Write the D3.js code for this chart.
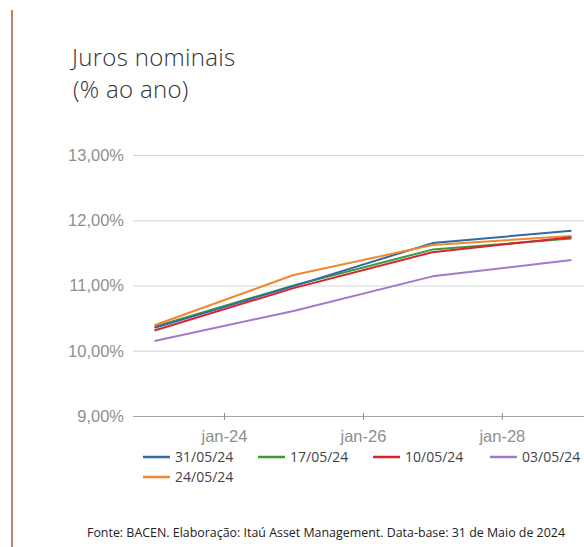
<!DOCTYPE html>
<html>
<head>
<meta charset="utf-8">
<script src="https://cdn.jsdelivr.net/npm/d3@7"></script>
<style>
  body { margin: 0; background: #fff; }
  svg { display: block; font-family: "Open Sans", sans-serif; }
</style>
</head>
<body>
<div id="chart"></div>
<script>
// NOTE: data
const dates = ['2023-01-01', '2025-01-01', '2027-01-01', '2029-01-01'];
const seriesNames = ['31/05/24', '24/05/24', '17/05/24', '10/05/24', '03/05/24'];
const s310524 = [10.35, 10.99, 11.65, 11.84];
const s240524 = [10.39, 11.16, 11.62, 11.76];
const s170524 = [10.37, 11.00, 11.55, 11.72];
const s100524 = [10.31, 10.96, 11.51, 11.74];
const s030524 = [10.15, 10.61, 11.14, 11.39];
const yTicks = [9, 10, 11, 12, 13];
const xTickDates = ['2024-01-01', '2026-01-01', '2028-01-01'];
const xTickLabels = ['jan-24', 'jan-26', 'jan-28'];
const legendOrder = ['31/05/24', '17/05/24', '10/05/24', '03/05/24', '24/05/24'];

// NOTE: settings
const W = 584, H = 547;
const margin = { top: 155, right: 0, bottom: 131, left: 133 };
const colors = {
  '31/05/24': '#2f6aa6',
  '24/05/24': '#f4862c',
  '17/05/24': '#3a9a3a',
  '10/05/24': '#d7232b',
  '03/05/24': '#a07acb',
};

const parse = d3.utcParse('%Y-%m-%d');
const values = [s310524, s240524, s170524, s100524, s030524];
const series = seriesNames.map((name, i) => ({
  name,
  points: dates.map((d, j) => ({ date: parse(d), value: values[i][j] })),
}));

const width = W - margin.left - margin.right;
const height = H - margin.top - margin.bottom;

const x = d3.scaleUtc()
  .domain([parse('2022-09-10'), parse('2029-03-08')])
  .range([0, width]);
const y = d3.scaleLinear().domain([9, 13]).range([height, 0]);

const pct = d3.formatLocale({ decimal: ',', thousands: '.', grouping: [3], currency: ['', ''] });
const fmt = pct.format('.2f');

const svg = d3.select('#chart').append('svg')
  .attr('width', W)
  .attr('height', H);

// left accent bar
svg.append('rect')
  .attr('x', 11).attr('y', 10)
  .attr('width', 2).attr('height', H - 10)
  .attr('fill', '#c47f66');

// title, two lines
svg.selectAll('.title')
  .data(['Juros nominais', '(% ao ano)'])
  .join('text')
  .attr('class', 'title')
  .attr('x', (d, i) => 72 + i)
  .attr('y', (d, i) => 66 + i * 32)
  .attr('fill', '#333')
  .attr('font-size', 24)
  .attr('font-weight', 300)
  .attr('letter-spacing', 0.3)
  .text(d => d);

const g = svg.append('g')
  .attr('transform', `translate(${margin.left},${margin.top})`);

// gridlines + y labels
const yAxis = g.append('g')
  .call(d3.axisLeft(y)
    .tickValues(yTicks)
    .tickSize(-width)
    .tickPadding(9)
    .tickFormat(d => fmt(d) + '%'));
yAxis.select('.domain').remove();
yAxis.selectAll('.tick line')
  .attr('stroke', d => d === 9 ? '#a6a6a6' : '#d3d3d3')
  .attr('stroke-width', 1.2);
yAxis.selectAll('.tick text')
  .attr('fill', '#8f8f8f')
  .attr('font-weight', 300)
  .attr('font-size', 16.5);

// x axis
const xAxis = g.append('g')
  .attr('transform', `translate(0,${height})`)
  .call(d3.axisBottom(x)
    .tickValues(xTickDates.map(parse))
    .tickSize(4)
    .tickPadding(10)
    .tickFormat((d, i) => xTickLabels[i]));
xAxis.select('.domain').remove();
xAxis.selectAll('.tick line')
  .attr('y1', -3)
  .attr('stroke', '#888');
xAxis.selectAll('.tick text')
  .attr('fill', '#8f8f8f')
  .attr('font-weight', 300)
  .attr('font-size', 16.5);

// lines
const line = d3.line()
  .x(d => x(d.date))
  .y(d => y(d.value));

const drawOrder = ['03/05/24', '17/05/24', '31/05/24', '24/05/24', '10/05/24'];
g.selectAll('.series')
  .data(drawOrder.map(n => series.find(s => s.name === n)))
  .join('path')
  .attr('class', 'series')
  .attr('fill', 'none')
  .attr('stroke', d => colors[d.name])
  .attr('stroke-width', 2)
  .attr('stroke-linejoin', 'round')
  .attr('d', d => line(d.points));

// legend
const legendX = [143, 258, 373, 490];
const legend = svg.append('g')
  .selectAll('g')
  .data(legendOrder)
  .join('g')
  .attr('transform', (d, i) => `translate(${legendX[i % 4]},${457 + Math.floor(i / 4) * 20})`);
legend.append('line')
  .attr('x1', 0).attr('x2', 27)
  .attr('stroke', d => colors[d])
  .attr('stroke-width', 2.5);
legend.append('text')
  .attr('x', 32).attr('dy', '0.35em')
  .attr('fill', '#444')
  .attr('font-size', 14)
  .text(d => d);

// footer
svg.append('text')
  .attr('x', 87).attr('y', 537)
  .attr('fill', '#222')
  .attr('font-size', 12)
  .attr('textLength', 478)
  .attr('lengthAdjust', 'spacingAndGlyphs')
  .text('Fonte: BACEN. Elaboração: Itaú Asset Management. Data-base: 31 de Maio de 2024');
</script>
</body>
</html>
